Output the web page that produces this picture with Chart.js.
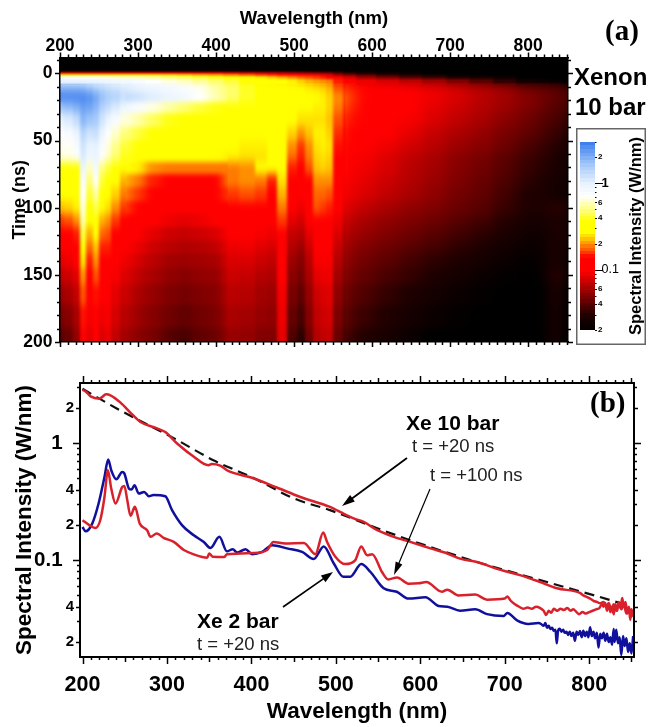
<!DOCTYPE html>
<html><head><meta charset="utf-8">
<script src="https://cdn.jsdelivr.net/npm/chart.js@4"></script>
<style>
html,body{margin:0;padding:0;background:#fff;width:649px;height:727px;overflow:hidden}
canvas{position:absolute;display:block;filter:blur(.35px)}
#heat{left:0;top:0}
#bar{left:576px;top:128px}
#lines{left:0;top:360px}
svg{position:absolute;width:0;height:0}
</style></head><body>
<svg><defs>
<filter id="soft" x="-5%" y="-5%" width="110%" height="110%" color-interpolation-filters="sRGB"><feGaussianBlur stdDeviation="1.8 4"/></filter>
<filter id="wideA" x="-5%" y="-5%" width="110%" height="110%" color-interpolation-filters="sRGB"><feGaussianBlur stdDeviation="5 2.5"/></filter>
<filter id="wideB" x="-5%" y="-5%" width="110%" height="110%" color-interpolation-filters="sRGB"><feGaussianBlur stdDeviation="7 4"/></filter>
</defs></svg>
<canvas id="heat" width="649" height="360"></canvas>
<canvas id="bar" width="70" height="217"></canvas>
<canvas id="lines" width="649" height="367"></canvas>
<script>
// ---------- panel (a) data ----------
const heatWaves=[200,212,222,230,238,247,255,262,270,285,300,320,340,360,380,400,420,440,460,472,486,498,510,520,530,538,546,556,570,590,620,650,680,710,740,770,800,820,835,850];
const heatTimes=[-12,-2,0,1.5,3,6,10,18,25,35,45,55,62,70,80,90,100,110,120,130,140,150,165,180,200];
const heatRows=[
[.01,.01,.01,.01,.01,.01,.01,.01,.01,.01,.01,.01,.01,.01,.01,.01,.01,.01,.01,.01,.01,.01,.01,.01,.01,.01,.01,.01,.01,.01,.01,.01,.01,.01,.01,.01,.01,.01,.01,.01],
[.012,.012,.012,.012,.012,.012,.012,.012,.012,.012,.012,.012,.012,.012,.012,.012,.012,.012,.012,.012,.012,.012,.012,.012,.012,.012,.012,.012,.012,.012,.012,.012,.012,.012,.012,.012,.012,.012,.012,.012],
[.12,.12,.12,.12,.12,.12,.12,.12,.12,.115,.11,.11,.105,.1,.1,.1,.09,.085,.08,.078,.075,.07,.065,.06,.055,.052,.05,.04,.032,.028,.024,.022,.02,.018,.016,.015,.014,.013,.012,.012],
[.3,.3,.3,.3,.3,.3,.3,.3,.3,.29,.28,.27,.26,.25,.23,.22,.2,.18,.16,.15,.14,.13,.12,.11,.1,.09,.085,.06,.05,.04,.032,.028,.025,.022,.02,.018,.016,.015,.014,.013],
[.7,.72,.72,.72,.72,.7,.7,.68,.65,.62,.6,.55,.5,.46,.42,.38,.33,.29,.26,.24,.22,.2,.18,.17,.16,.15,.14,.1,.08,.06,.05,.04,.035,.03,.027,.024,.02,.018,.017,.016],
[1.0,1.0,1.0,1.0,1.0,.98,.95,.92,.88,.85,.8,.72,.66,.6,.54,.48,.42,.36,.32,.3,.28,.26,.24,.22,.21,.2,.19,.15,.12,.09,.08,.07,.06,.05,.04,.032,.025,.024,.022,.02],
[2.0,2.0,2.0,1.9,1.7,1.5,1.4,1.3,1.2,1.1,1.0,.92,.85,.78,.68,.56,.48,.4,.35,.33,.31,.29,.27,.26,.25,.24,.22,.17,.15,.13,.105,.095,.085,.075,.065,.057,.045,.042,.04,.035],
[2.8,2.8,2.8,2.8,2.6,2.2,1.8,1.6,1.5,1.3,1.2,1.05,.95,.85,.72,.58,.48,.4,.36,.34,.33,.31,.29,.28,.27,.26,.24,.2,.165,.14,.125,.105,.09,.08,.068,.06,.052,.046,.042,.038],
[1.7,1.8,2.0,2.3,2.2,1.9,1.5,1.3,1.1,.9,.78,.66,.55,.48,.42,.38,.34,.32,.31,.3,.3,.29,.28,.27,.26,.26,.24,.19,.155,.135,.12,.1,.085,.075,.066,.058,.05,.044,.04,.036],
[1.0,1.1,1.3,1.9,1.7,1.6,1.2,.95,.8,.65,.56,.46,.38,.34,.32,.31,.3,.3,.3,.3,.29,.27,.25,.25,.25,.25,.23,.17,.145,.125,.11,.095,.08,.07,.062,.053,.046,.04,.037,.033],
[.75,.8,.95,1.4,1.2,1.25,.95,.75,.62,.5,.42,.35,.31,.3,.29,.29,.28,.28,.29,.3,.29,.24,.2,.23,.26,.26,.24,.155,.135,.115,.1,.085,.072,.063,.056,.048,.042,.037,.034,.03],
[.68,.7,.8,1.2,1.0,1.0,.8,.65,.52,.42,.36,.32,.29,.28,.28,.28,.27,.26,.26,.29,.3,.2,.16,.2,.25,.26,.25,.145,.125,.105,.09,.077,.067,.058,.052,.045,.038,.034,.031,.027],
[.65,.66,.75,1.1,.9,.95,.75,.6,.48,.38,.34,.3,.28,.27,.27,.27,.26,.25,.25,.28,.29,.18,.15,.19,.24,.25,.24,.13,.11,.095,.082,.07,.062,.053,.048,.041,.035,.032,.029,.026],
[.33,.33,.36,.95,.6,.85,.5,.42,.34,.28,.26,.2,.19,.19,.19,.19,.19,.2,.27,.28,.28,.15,.13,.17,.23,.24,.23,.125,.105,.09,.08,.068,.06,.052,.046,.04,.034,.031,.028,.025],
[.31,.31,.33,.8,.5,.7,.42,.36,.28,.22,.19,.15,.13,.125,.13,.135,.19,.2,.19,.15,.25,.12,.11,.14,.2,.2,.2,.12,.095,.085,.075,.065,.057,.05,.044,.038,.032,.029,.027,.024],
[.27,.28,.3,.72,.42,.55,.34,.3,.24,.19,.16,.125,.115,.11,.12,.125,.16,.17,.16,.13,.22,.11,.1,.13,.18,.18,.17,.11,.09,.08,.07,.062,.054,.047,.042,.036,.03,.028,.026,.023],
[.23,.24,.26,.65,.36,.43,.28,.25,.2,.16,.14,.115,.105,.1,.11,.115,.14,.14,.14,.12,.19,.1,.09,.12,.17,.16,.15,.1,.08,.07,.062,.055,.05,.044,.04,.034,.03,.028,.032,.028],
[.16,.17,.2,.55,.28,.34,.22,.2,.16,.135,.12,.1,.09,.085,.09,.1,.115,.115,.11,.1,.16,.085,.078,.1,.14,.135,.125,.09,.07,.062,.055,.05,.045,.04,.036,.031,.027,.026,.03,.026],
[.11,.12,.15,.42,.22,.28,.18,.17,.14,.115,.1,.085,.075,.072,.075,.08,.1,.1,.095,.09,.14,.072,.068,.085,.12,.115,.11,.08,.062,.056,.05,.045,.04,.036,.032,.028,.025,.024,.03,.025],
[.1,.105,.12,.32,.18,.23,.15,.15,.12,.1,.088,.075,.068,.064,.066,.07,.088,.09,.083,.078,.12,.065,.058,.075,.105,.105,.1,.072,.056,.05,.045,.04,.036,.032,.029,.025,.023,.023,.03,.024],
[.085,.09,.1,.25,.15,.2,.13,.13,.105,.09,.078,.068,.06,.058,.06,.062,.08,.08,.074,.07,.11,.058,.052,.068,.095,.095,.095,.066,.052,.046,.041,.036,.032,.029,.026,.023,.021,.022,.03,.023],
[.07,.075,.085,.2,.125,.17,.115,.12,.095,.082,.07,.062,.055,.052,.055,.056,.074,.072,.066,.064,.1,.053,.048,.062,.085,.088,.09,.06,.048,.042,.037,.033,.029,.026,.023,.021,.019,.021,.032,.023],
[.058,.062,.072,.17,.11,.145,.1,.105,.085,.074,.063,.056,.05,.047,.05,.052,.068,.066,.06,.058,.093,.048,.042,.056,.075,.08,.083,.054,.043,.038,.033,.029,.026,.023,.021,.019,.017,.02,.03,.021],
[.048,.052,.062,.145,.095,.125,.09,.095,.078,.067,.058,.052,.046,.042,.046,.049,.062,.06,.056,.054,.088,.043,.037,.051,.07,.075,.078,.049,.039,.034,.03,.026,.023,.021,.019,.017,.016,.019,.029,.02],
[.04,.044,.055,.125,.085,.105,.08,.088,.07,.06,.053,.048,.04,.037,.042,.045,.056,.055,.05,.05,.085,.038,.032,.046,.065,.07,.072,.044,.035,.03,.027,.023,.02,.018,.017,.015,.015,.018,.028,.019]
];
const colorStopValues=[.02,.03,.04,.05,.07,.09,.1,.14,.17,.21,.27,.36,.55,.72,1,1.6,3];
const colorStopColors=['#000000','#200000','#580000','#800000','#c00000','#f00000','#ff0000','#ff0000','#ff5000','#ffa000','#ffff00','#ffff00','#ffffa0','#ffffff','#e8f3ff','#a8ccfa','#3f80ee'];
const barLevels=[.02,.022,.024,.026,.028,.03,.033,.036,.04,.044,.048,.052,.057,.062,.068,.075,.082,.09,.1,.11,.12,.13,.145,.16,.175,.19,.21,.23,.25,.275,.3,.33,.36,.4,.44,.48,.53,.58,.64,.7,.77,.85,.93,1,1.12,1.24,1.36,1.5,1.65,1.8,2,2.2,2.4,2.65,3];
const heatXMajor=[200,300,400,500,600,700,800];
const heatXMinor=[210,220,230,240,250,260,270,280,290,310,320,330,340,350,360,370,380,390,410,420,430,440,450,460,470,480,490,510,520,530,540,550,560,570,580,590,610,620,630,640,650,660,670,680,690,710,720,730,740,750,760,770,780,790,810,820,830,840,850];
const heatYMajor=[0,50,100,150,200];
const heatYMinor=[-10,10,20,30,40,60,70,80,90,110,120,130,140,160,170,180,190];
const barTicks=[.02,.04,.06,.1,.2,.4,.6,1,2];
const barTickLabels=['2','4','6',' 0.1','2','4','6',' 1','2'];
const barMinor=[.03,.05,.07,.08,.09,.3,.5,.7,.8,.9,3];

// ---------- panel (b) data ----------
const red20Waves=[200,205,209.5,220,228,233,245,258.8,268.6,286,298,312,331,349,353,363,373,399.6,430,458,487.6,493,505,521,533,549,568.6,588,612,632,647,667,695,718,742,761.8,789,793,797,801,805,809,813,817,820,823,826,829,832,835,838,841,844,847,850,852];
const red20Values=[2.85,2.7,2.5,2.39,2.6,2.55,2.21,1.75,1.51,1.35,1.24,.99,.77,.645,.66,.64,.574,.507,.417,.346,.294,.285,.258,.227,.212,.18,.158,.143,.126,.114,.103,.0965,.0825,.0745,.065,.0575,.0525,.05,.0486,.047,.045,.044,.0428,.044,.04,.043,.038,.042,.037,.043,.038,.042,.035,.039,.033,.036];
const red100Waves=[200,207.5,215,221,226,230,234,239,247,249.5,253,256.8,262,267.8,276.5,280.5,288,296,308,320,331.7,347.6,350,354,368,371,402.7,418.6,426,440,462,475.7,485,489.6,499.4,511,523,530,537,543,554.6,562,572.4,586,598,607,625.6,632,645,665,679,700,703,707,712,717,722,727,732,737,742,746,749,752,755,758,762,766,770,774,778,781,785,788,792,796,800,804,808,812,815,817,819,821,823,825,827,829,831,833,835,837,839,841,843,845,847,848.5,850,852];
const red100Values=[.219,.2,.188,.219,.346,.585,.408,.304,.421,.43,.324,.239,.285,.205,.18,.158,.169,.155,.143,.122,.112,.105,.114,.107,.1065,.1125,.115,.122,.143,.139,.14,.1125,.172,.143,.107,.0925,.1,.131,.11,.1125,.0792,.0685,.0712,.063,.0635,.065,.0537,.056,.05,.0508,.046,.047,.049,.045,.042,.04,.0385,.0395,.0385,.04,.039,.037,.034,.037,.0355,.0385,.037,.0385,.0375,.039,.037,.038,.036,.0345,.036,.035,.036,.037,.038,.039,.042,.04,.043,.037,.042,.036,.04,.0345,.042,.037,.044,.039,.0475,.04,.044,.035,.04,.031,.038,.033];
const blueWaves=[200,203.6,211.5,219,226,230.4,234,240,247,249.5,255,258,261.5,266.6,273,278.5,284,298,306,318,331.7,343.6,351.5,362,371,377.9,383,393,400.8,412.6,424.5,442,460,473.7,485.6,497.4,509,517,530,541,556.6,572,586,606,621.6,632,647,665,679,698.6,703,714.5,728,740,743,746,748,750,752,754,756,758,760,761.5,763,765,767,769,771,773,775,777,779,781,783,785,787,789,791,793,795,797,799,801,803,805,807,809,811,813,815,817,819,821,823,825,827,829,830,832,834,836,838,840,842,844,846,848,850,852];
const blueValues=[.192,.176,.205,.304,.513,.722,.585,.49,.566,.55,.408,.4,.436,.37,.382,.351,.36,.351,.267,.198,.163,.143,.127,.158,.119,.124,.116,.124,.1125,.1175,.134,.126,.1175,.102,.131,.094,.072,.072,.0925,.0792,.0575,.0537,.047,.0482,.0406,.04,.037,.038,.0346,.0334,.0354,.0306,.0285,.029,.0285,.0275,.029,.0265,.0275,.0258,.0265,.025,.0255,.0195,.0248,.026,.0245,.0255,.024,.0245,.023,.0245,.0225,.024,.0205,.0245,.023,.0248,.022,.025,.0225,.0245,.022,.0268,.0225,.0245,.0215,.024,.018,.0235,.0215,.024,.0205,.0235,.02,.022,.019,.0258,.02,.0255,.0195,.022,.0155,.0225,.0185,.0215,.0165,.0195,.016,.0225];
const fitWaves=[200,241,308,355,403,450,493,549,588,647,667,750,821,846];
const fitValues=[2.9,1.96,1.1,.712,.5,.337,.267,.187,.148,.107,.0965,.065,.0465,.041];
const lineXMajor=[200,300,400,500,600,700,800];
const lineXMid=[250,350,450,550,650,750,850];
const lineXMinor=[210,220,230,240,260,270,280,290,310,320,330,340,360,370,380,390,410,420,430,440,460,470,480,490,510,520,530,540,560,570,580,590,610,620,630,640,660,670,680,690,710,720,730,740,760,770,780,790,810,820,830,840];
const lineYTicks=[.02,.04,.1,.2,.4,1,2];
const lineYTickLabels=['2','4','0.1  ','2','4','1  ','2'];
const lineYMid=[.03,.05,.3,.5,3];
const lineYMinor=[.06,.07,.08,.09,.6,.7,.8,.9];

// ---------- helpers ----------
const SANS='"Liberation Sans",Arial,sans-serif', SERIF='"Liberation Serif",serif';
const zip=(xs,ys)=>xs.map((x,i)=>({x,y:ys[i]}));
const fixed=size=>s=>{ if(s.isHorizontal()) s.height=size; else s.width=size; };
function hex(c){return [1,3,5].map(i=>parseInt(c.substr(i,2),16));}
function colorFor(v){
  if(v<=colorStopValues[0]) return colorStopColors[0];
  const n=colorStopValues.length;
  if(v>=colorStopValues[n-1]) return colorStopColors[n-1];
  let i=0; while(v>colorStopValues[i+1]) i++;
  const t=(Math.log(v)-Math.log(colorStopValues[i]))/(Math.log(colorStopValues[i+1])-Math.log(colorStopValues[i]));
  const a=hex(colorStopColors[i]), b=hex(colorStopColors[i+1]);
  return 'rgb('+a.map((q,k)=>Math.round(q+(b[k]-q)*t)).join(',')+')';
}
const tickMarks={id:'tickMarks',afterDraw(chart,_,o){
  const ctx=chart.ctx,a=chart.chartArea;
  ctx.save(); ctx.strokeStyle='#000';
  (o.sets||[]).forEach(s=>{
    const sc=chart.scales[s.scale]; ctx.lineWidth=s.width||1.5;
    s.values.forEach(v=>{
      const p=Math.round(sc.getPixelForValue(v))+.5; ctx.beginPath();
      if(sc.position==='top'){ctx.moveTo(p,a.top);ctx.lineTo(p,a.top-s.len);}
      if(sc.position==='bottom'){ctx.moveTo(p,a.bottom);ctx.lineTo(p,a.bottom+s.len);}
      if(sc.position==='left'){ctx.moveTo(a.left,p);ctx.lineTo(a.left-s.len,p);}
      if(sc.position==='right'){ctx.moveTo(a.right,p);ctx.lineTo(a.right+s.len,p);}
      ctx.stroke();
    });
  });
  ctx.restore();
}};
const pageText={id:'pageText',afterDraw(chart,_,o){
  const ctx=chart.ctx,c=chart.canvas;
  ctx.save(); ctx.translate(-c.offsetLeft,-c.offsetTop);
  (o.arrows||[]).forEach(r=>{
    const ang=Math.atan2(r.y2-r.y1,r.x2-r.x1),L=r.head||11,W=r.wide||3.6;
    ctx.strokeStyle='#000';ctx.fillStyle='#000';ctx.lineWidth=r.w;
    ctx.beginPath();ctx.moveTo(r.x1,r.y1);ctx.lineTo(r.x2-Math.cos(ang)*L*.7,r.y2-Math.sin(ang)*L*.7);ctx.stroke();
    ctx.beginPath();ctx.moveTo(r.x2,r.y2);
    ctx.lineTo(r.x2-Math.cos(ang)*L-Math.sin(ang)*W,r.y2-Math.sin(ang)*L+Math.cos(ang)*W);
    ctx.lineTo(r.x2-Math.cos(ang)*L+Math.sin(ang)*W,r.y2-Math.sin(ang)*L-Math.cos(ang)*W);
    ctx.closePath();ctx.fill();
  });
  (o.items||[]).forEach(t=>{
    ctx.save(); ctx.translate(t.x,t.y); if(t.rot) ctx.rotate(t.rot);
    ctx.font=t.font; ctx.fillStyle=t.color||'#000'; ctx.textAlign=t.align||'left'; ctx.textBaseline='middle';
    ctx.fillText(t.s,0,0); ctx.restore();
  });
  ctx.restore();
}};
function cellsPlugin(soft){return {id:'cells',beforeDatasetsDraw(chart){
  const ctx=chart.ctx,a=chart.chartArea,ds=chart.data.datasets[0],xs=chart.scales.x,ys=chart.scales.y;
  const W=ds.cellWaves,T=ds.cellTimes,logY=ds.logCells;
  ctx.save();ctx.beginPath();ctx.rect(a.left,a.top,a.right-a.left,a.bottom-a.top);ctx.clip();
  ds.data.forEach(p=>{
    const mid=(u,v)=>logY?Math.sqrt(u*v):(u+v)/2;
    const x0=p.i>0?xs.getPixelForValue((W[p.i-1]+W[p.i])/2):a.left;
    const x1=p.i<W.length-1?xs.getPixelForValue((W[p.i]+W[p.i+1])/2):a.right;
    const y0=p.j>0?ys.getPixelForValue(mid(T[p.j-1],T[p.j])):(logY?a.bottom:a.top);
    const y1=p.j<T.length-1?ys.getPixelForValue(mid(T[p.j],T[p.j+1])):(logY?a.top:a.bottom);
    const L=Math.floor(Math.min(x0,x1)),R=Math.ceil(Math.max(x0,x1)),U=Math.floor(Math.min(y0,y1)),D=Math.ceil(Math.max(y0,y1));
    ctx.fillStyle=colorFor(p.v);ctx.fillRect(L,U,R-L,D-U);
  });
  ctx.restore();
  if(soft){
    const split=ys.getPixelForValue(soft.splitAt);
    const copy=document.createElement('canvas');copy.width=chart.width;copy.height=chart.height;
    copy.getContext('2d').drawImage(chart.canvas,0,0);
    const pass=(x0,x1,y0,y1,f)=>{ctx.save();ctx.beginPath();ctx.rect(x0,y0,x1-x0,y1-y0);ctx.clip();ctx.filter=f;ctx.drawImage(copy,0,0);ctx.restore();};
    pass(a.left,a.right,split,a.bottom,'url(#soft)');
    pass(xs.getPixelForValue(285),xs.getPixelForValue(415),split,a.bottom,'url(#wideA)');
    pass(xs.getPixelForValue(566),a.right,split,a.bottom,'url(#wideB)');
    pass(a.left,a.right,a.top,split,'blur(1.1px)');
    ctx.filter='none';
  }
}};}
Chart.defaults.animation=false;
Chart.defaults.font.family=SANS;
Chart.defaults.color='#000';

// ---------- panel (a) heat map ----------
const heatCells=[];
heatRows.forEach((row,j)=>row.forEach((v,i)=>{if(i<heatWaves.length)heatCells.push({x:heatWaves[i],y:heatTimes[j],v,i,j});}));
const tickFontA={size:17.5,weight:'bold',family:SANS};
new Chart(document.getElementById('heat'),{
  type:'scatter',
  data:{datasets:[{data:heatCells,cellWaves:heatWaves,cellTimes:heatTimes,pointRadius:0,showLine:false,xAxisID:'x',yAxisID:'y'}]},
  plugins:[cellsPlugin({splitAt:8}),tickMarks,pageText],
  options:{responsive:false,layout:{padding:0},
    plugins:{legend:{display:false},tooltip:{enabled:false},
      tickMarks:{sets:[
        {scale:'x',values:heatXMajor,len:5},{scale:'x',values:heatXMinor,len:3},
        {scale:'xB',values:heatXMajor,len:5},{scale:'xB',values:heatXMinor,len:3},
        {scale:'y',values:heatYMajor,len:5},{scale:'y',values:heatYMinor,len:3},
        {scale:'yR',values:heatYMajor,len:5},{scale:'yR',values:heatYMinor,len:3}]},
      pageText:{items:[
        {s:'(a)',x:605,y:33,font:'bold 29px '+SERIF},
        {s:'Xenon',x:574,y:78,font:'bold 24px '+SANS},
        {s:'10 bar',x:575,y:108,font:'bold 24px '+SANS}]}},
    scales:{
      x:{type:'linear',position:'top',min:200,max:851,afterFit:fixed(57.5),afterBuildTicks:s=>{s.ticks=heatXMajor.map(value=>({value}));},
        grid:{display:false,drawTicks:false},border:{color:'#000',width:1.5,z:1},
        ticks:{font:tickFontA,padding:1,maxRotation:0,autoSkip:false,color:'#000'},
        title:{display:true,text:'Wavelength (nm)',font:{size:18.5,weight:'bold',family:SANS},padding:{top:8,bottom:0}}},
      xB:{type:'linear',position:'bottom',min:200,max:851,afterFit:fixed(18),afterBuildTicks:s=>{s.ticks=heatXMajor.map(value=>({value}));},
        grid:{display:false,drawTicks:false},border:{color:'#000',width:1.5,z:1},ticks:{display:false}},
      y:{type:'linear',position:'left',reverse:true,min:-11.9,max:200,afterFit:fixed(60),afterBuildTicks:s=>{s.ticks=heatYMajor.map(value=>({value}));},
        grid:{display:false,drawTicks:false},border:{color:'#000',width:1.5,z:1},
        ticks:{font:tickFontA,padding:7.5,autoSkip:false,color:'#000'},
        title:{display:true,text:'Time (ns)',font:{size:18,weight:'bold',family:SANS},padding:{top:9,bottom:0}}},
      yR:{type:'linear',position:'right',reverse:true,min:-11.9,max:200,afterFit:fixed(81),afterBuildTicks:s=>{s.ticks=heatYMajor.map(value=>({value}));},
        grid:{display:false,drawTicks:false},border:{color:'#000',width:1.5,z:1},ticks:{display:false}}
    }}
});

// ---------- colour bar ----------
const barCells=barLevels.map((v,j)=>({x:.5,y:v,v,i:0,j}));
const frame={id:'frame',afterDraw(chart){const c=chart.ctx;c.save();c.strokeStyle='#666';c.lineWidth=1.5;c.strokeRect(.75,.75,chart.width-1.5,chart.height-1.5);c.restore();}};
new Chart(document.getElementById('bar'),{
  type:'scatter',
  data:{datasets:[{data:barCells,cellWaves:[.5],cellTimes:barLevels,logCells:true,pointRadius:0,showLine:false,xAxisID:'x',yAxisID:'y'}]},
  plugins:[cellsPlugin(null),tickMarks,pageText,frame],
  options:{responsive:false,layout:{padding:{left:4,top:14,bottom:15,right:0}},
    plugins:{legend:{display:false},tooltip:{enabled:false},
      tickMarks:{sets:[{scale:'y',values:[1,.1],len:8,width:1},{scale:'y',values:[.02,.04,.06,.2,.4,.6,2],len:2,width:1},{scale:'y',values:barMinor,len:1.5,width:1}]},
      pageText:{items:[{s:'Spectral Intensity (W/nm)',x:636,y:236,rot:-Math.PI/2,align:'center',font:'bold 16.5px '+SANS}]}},
    scales:{
      x:{type:'linear',display:false,min:0,max:1},
      y:{type:'logarithmic',position:'right',min:.02,max:3,afterFit:fixed(51),afterBuildTicks:s=>{s.ticks=barTicks.map(value=>({value}));},
        grid:{display:false,drawTicks:false},border:{display:false},
        ticks:{autoSkip:false,padding:3,color:'#000',
          callback:(v,i)=>barTickLabels[i],
          font:c=>{const v=c.tick.value;return v===1?{size:13,weight:'bold',family:SANS}:v===.1?{size:12.5,family:SANS}:{size:8,weight:'bold',family:SANS};}}}
    }}
});

// ---------- panel (b) spectra ----------
const lineStyle={pointRadius:0,cubicInterpolationMode:'monotone',parsing:false,borderWidth:2.5};
new Chart(document.getElementById('lines'),{
  type:'line',
  data:{datasets:[
    {...lineStyle,label:'Xe 2 bar, t = +20 ns',data:zip(blueWaves,blueValues),borderColor:'#10109c',order:3},
    {...lineStyle,label:'Xe 10 bar, fit',data:zip(fitWaves,fitValues),borderColor:'#111',borderWidth:2.2,borderDash:[10,6],order:4},
    {...lineStyle,label:'Xe 10 bar, t = +100 ns',data:zip(red100Waves,red100Values),borderColor:'#d9212b',order:2},
    {...lineStyle,label:'Xe 10 bar, t = +20 ns',data:zip(red20Waves,red20Values),borderColor:'#d9212b',order:1}
  ]},
  plugins:[tickMarks,pageText],
  options:{responsive:false,layout:{padding:0},
    plugins:{legend:{display:false},tooltip:{enabled:false},
      tickMarks:{sets:[
        {scale:'x',values:lineXMajor,len:7},{scale:'x',values:lineXMid,len:5},{scale:'x',values:lineXMinor,len:3},
        {scale:'xT',values:lineXMajor,len:7},{scale:'xT',values:lineXMid,len:5},{scale:'xT',values:lineXMinor,len:3},
        {scale:'y',values:[.1,1],len:7},{scale:'y',values:[.02,.04,.2,.4,2],len:4},{scale:'y',values:lineYMid,len:3},{scale:'y',values:lineYMinor,len:3},
        {scale:'yR',values:[.1,1],len:7},{scale:'yR',values:[.02,.04,.2,.4,2],len:4},{scale:'yR',values:lineYMid,len:3},{scale:'yR',values:lineYMinor,len:3}]},
      pageText:{
        arrows:[{x1:407,y1:458,x2:342,y2:506,w:1.8,head:13,wide:4},{x1:430,y1:489,x2:394,y2:575,w:1.2,head:13,wide:3.6},{x1:283,y1:607,x2:333,y2:572,w:1.6,head:12,wide:4}],
        items:[
        {s:'(b)',x:590,y:405,font:'bold 29px '+SERIF},
        {s:'Xe 10 bar',x:406,y:424,font:'bold 21px '+SANS},
        {s:'t = +20 ns',x:412,y:447,font:'18.5px '+SANS,color:'#222'},
        {s:'t = +100 ns',x:430,y:476,font:'18.5px '+SANS,color:'#222'},
        {s:'Xe 2 bar',x:197,y:622,font:'bold 21px '+SANS},
        {s:'t = +20 ns',x:197,y:645,font:'18.5px '+SANS,color:'#222'}]}},
    scales:{
      x:{type:'linear',position:'bottom',min:197,max:853,afterFit:fixed(70),afterBuildTicks:s=>{s.ticks=lineXMajor.map(value=>({value}));},
        grid:{display:false,drawTicks:false},border:{color:'#000',width:2,z:1},
        ticks:{font:{size:21.5,weight:'bold',family:SANS},padding:15,maxRotation:0,autoSkip:false,color:'#000'},
        title:{display:true,text:'Wavelength (nm)',font:{size:22.5,weight:'bold',family:SANS},padding:{top:0,bottom:2}}},
      xT:{type:'linear',position:'top',min:197,max:853,afterFit:fixed(23),afterBuildTicks:s=>{s.ticks=lineXMajor.map(value=>({value}));},
        grid:{display:false,drawTicks:false},border:{color:'#000',width:2,z:1},ticks:{display:false}},
      y:{type:'logarithmic',position:'left',min:.0149,max:3.25,afterFit:fixed(80),afterBuildTicks:s=>{s.ticks=lineYTicks.map(value=>({value}));},
        grid:{display:false,drawTicks:false},border:{color:'#000',width:2,z:1},
        ticks:{autoSkip:false,padding:6,color:'#000',callback:(v,i)=>lineYTickLabels[i],
          font:c=>{const v=c.tick.value;return (v===1||v===.1)?{size:20.5,weight:'bold',family:SANS}:{size:15,weight:'bold',family:SANS};}},
        title:{display:true,text:'Spectral Intensity (W/nm)',font:{size:22.5,weight:'bold',family:SANS},padding:{top:11,bottom:0}}},
      yR:{type:'logarithmic',position:'right',min:.0149,max:3.25,afterFit:fixed(15),afterBuildTicks:s=>{s.ticks=lineYTicks.map(value=>({value}));},
        grid:{display:false,drawTicks:false},border:{color:'#000',width:2,z:1},ticks:{display:false}}
    }}
});
</script>
</body></html>
